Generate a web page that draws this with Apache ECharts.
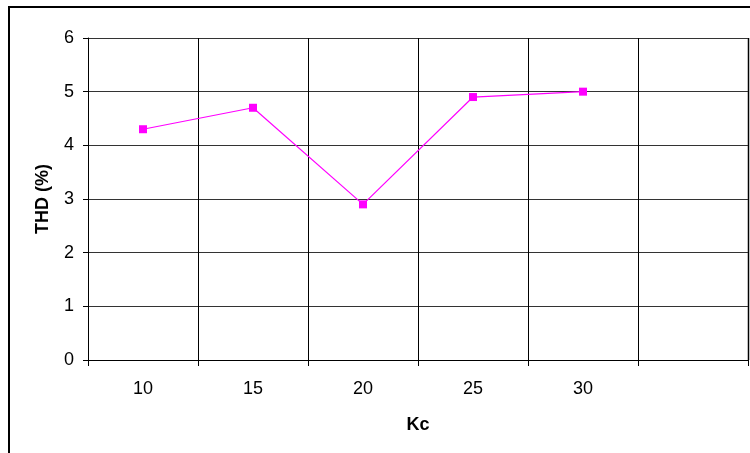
<!DOCTYPE html>
<html><head><meta charset="utf-8">
<script src="https://cdn.jsdelivr.net/npm/echarts@6/dist/echarts.min.js"></script>
<style>html,body{margin:0;padding:0;background:#fff}#c{width:750px;height:453px}</style>
</head><body><div id="c"></div>
<script>
const categories = ['10', '15', '20', '25', '30', ''];
const thdValues = [4.3, 4.7, 2.9, 4.9, 5.0];
const yTicks = { min: 0, max: 6, interval: 1 };
const xTitle = 'Kc';
const yTitle = 'THD (%)';

const chart = echarts.init(document.getElementById('c'), null, { renderer: 'canvas' });
const font = 'Liberation Sans, Arial, sans-serif';
chart.setOption({
  animation: false,
  backgroundColor: '#fff',
  grid: { left: 88, top: 38, right: 2, bottom: 93, containLabel: false },
  xAxis: {
    type: 'category', data: categories, boundaryGap: true,
    name: xTitle, nameLocation: 'middle', nameGap: 56,
    nameTextStyle: { fontFamily: font, fontSize: 18, fontWeight: 'bold', color: '#000' },
    axisLine: { lineStyle: { color: '#000', width: 1 } },
    axisTick: { show: true, interval: 0, length: 6, lineStyle: { color: '#000' } },
    axisLabel: { fontFamily: font, fontSize: 18, color: '#000', margin: 20, interval: 0 },
    splitLine: { show: true, interval: 0, lineStyle: { color: '#000', width: 1 } }
  },
  yAxis: {
    type: 'value', min: yTicks.min, max: yTicks.max, interval: yTicks.interval,
    name: yTitle, nameLocation: 'middle', nameGap: 36, nameRotate: 90,
    nameTextStyle: { fontFamily: font, fontSize: 18, fontWeight: 'bold', color: '#000' },
    axisLine: { show: true, lineStyle: { color: '#000', width: 1 } },
    axisTick: { show: true, length: 5, lineStyle: { color: '#000' } },
    axisLabel: { fontFamily: font, fontSize: 18, color: '#000', margin: 14 },
    splitLine: { show: true, lineStyle: { color: '#333', width: 1 } }
  },
  graphic: [
    { type: 'rect', shape: { x: 9, y: 7, width: 800, height: 500 }, style: { fill: null, stroke: '#000', lineWidth: 2 }, silent: true },
    { type: 'line', shape: { x1: 748.5, y1: 38, x2: 748.5, y2: 360 }, style: { stroke: '#808080', lineWidth: 2 }, silent: true }
  ],
  series: [{
    type: 'line', data: thdValues,
    symbol: 'rect', symbolSize: 8,
    itemStyle: { color: '#FF00FF' },
    lineStyle: { color: '#FF00FF', width: 1.2 }
  }]
});
</script></body></html>
